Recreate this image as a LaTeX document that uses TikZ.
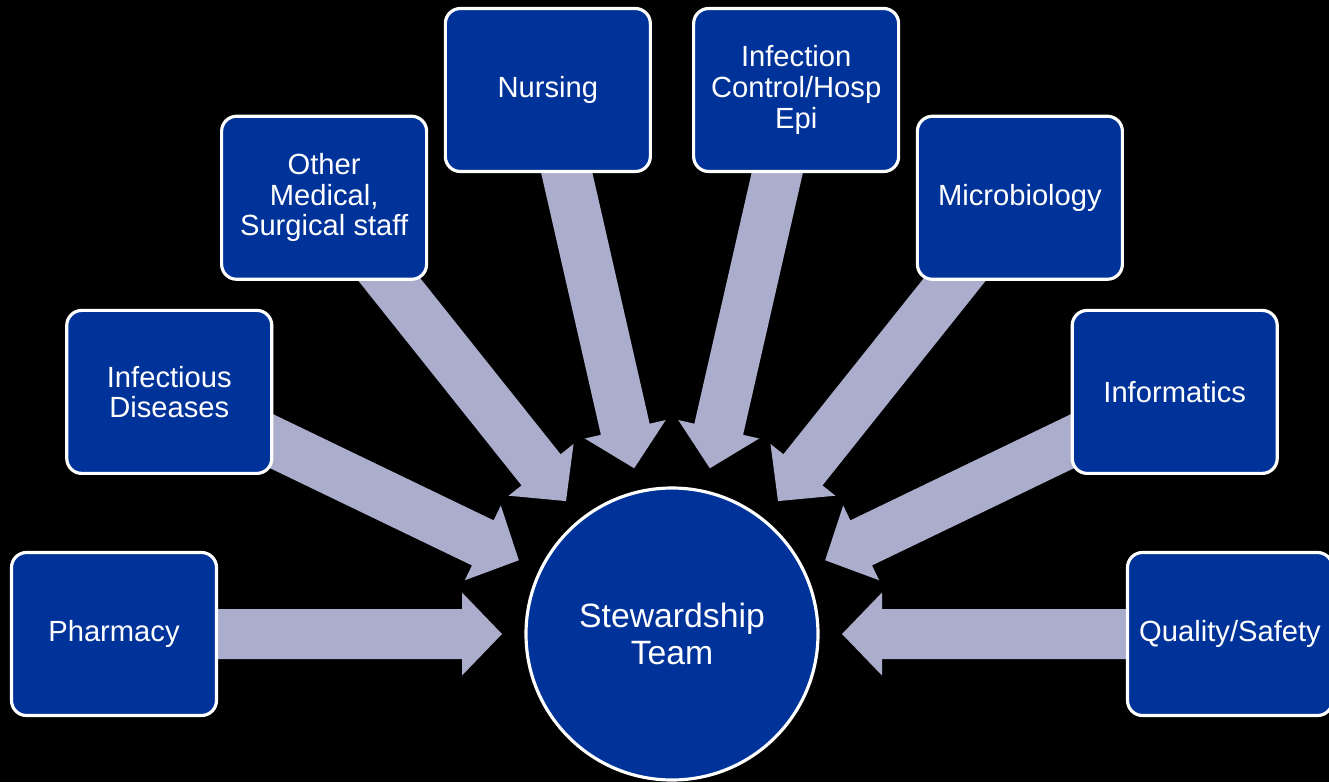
\documentclass[tikz,border=0pt]{standalone}
\usepackage{fontspec}
\setmainfont{Liberation Sans}
\usetikzlibrary{calc,backgrounds}

\definecolor{boxblue}{RGB}{0,51,153}
\definecolor{flowgray}{RGB}{170,173,203}

% block arrow from node #1 to tip coordinate #2
\newcommand{\flowarrow}[2]{%
  \coordinate (#2-b) at ($(#2)!0.4cm!(#1)$);
  \fill[flowgray] ($(#1)!0.25cm!90:(#2)$)
    -- ($(#2-b)!0.25cm!90:(#2)$)
    -- ($(#2-b)!0.415cm!90:(#2)$)
    -- (#2)
    -- ($(#2-b)!0.415cm!-90:(#2)$)
    -- ($(#2-b)!0.25cm!-90:(#2)$)
    -- ($(#1)!0.25cm!-90:(#2)$) -- cycle;}

\begin{document}
\begin{tikzpicture}[
  box/.style={draw=white,line width=0.9pt,fill=boxblue,text=white,rounded corners=0.15cm,
    minimum width=2.05cm,minimum height=1.63cm,align=center,inner sep=2pt,
    font=\fontsize{8.3}{8.7}\selectfont},
  hub/.style={draw=white,line width=0.9pt,fill=boxblue,text=white,circle,inner sep=0pt,
    minimum size=2.92cm,align=center,font=\fontsize{9.6}{10.5}\selectfont}]
\useasboundingbox (-6.72,-1.48) rectangle (6.57,6.34);

\node[hub] (team) at (0,0) {Stewardship\\Team};

% groups around the team, 180/7 degrees apart
\node[box] (ph)  at (180:5.58)        {Pharmacy};
\node[box] (id)  at ({180-180/7}:5.58)   {Infectious\\Diseases};
\node[box] (om)  at ({180-2*180/7}:5.58) {Other\\Medical,\\Surgical staff};
\node[box] (nu)  at ({180-3*180/7}:5.58) {Nursing};
\node[box] (ic)  at ({180-4*180/7}:5.58) {Infection\\Control/Hosp\\Epi};
\node[box] (mb)  at ({180-5*180/7}:5.58) {Microbiology};
\node[box] (inf) at ({180-6*180/7}:5.58) {Informatics};
\node[box] (qs)  at (0:5.58)          {Quality/Safety};

\begin{scope}[on background layer]
\fill[black] (-6.72,-1.48) rectangle (6.62,6.34);
\foreach \b in {ph,id,om,nu,ic,mb,inf,qs}{
  \coordinate (t\b) at ($(team)!1.70cm!(\b)$);
  \flowarrow{\b}{t\b}
}
\end{scope}
\end{tikzpicture}
\end{document}
